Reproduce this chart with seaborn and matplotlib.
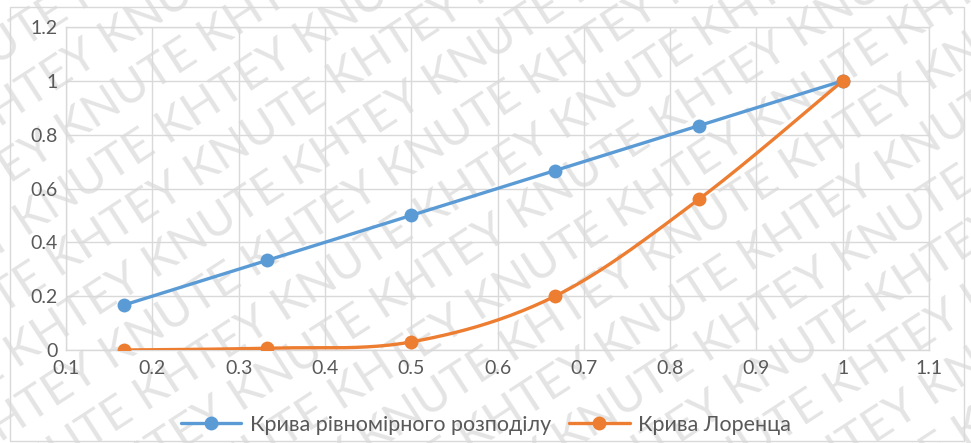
import numpy as np
import pandas as pd
import matplotlib
matplotlib.use("Agg")
import matplotlib.pyplot as plt
from matplotlib.lines import Line2D
from matplotlib.patches import Rectangle
import seaborn as sns

# Population share (x) and cumulative income share (y)
pop_share = [1/6, 2/6, 3/6, 4/6, 5/6, 1.0]
equal_curve = [1/6, 2/6, 3/6, 4/6, 5/6, 1.0]
lorenz_curve = [0.0, 0.007, 0.03, 0.2, 0.56, 1.0]

series_names = ["Крива рівномірного розподілу", "Крива Лоренца"]
x_ticks = [0.1, 0.2, 0.3, 0.4, 0.5, 0.6, 0.7, 0.8, 0.9, 1.0, 1.1]
x_tick_labels = ["0.1", "0.2", "0.3", "0.4", "0.5", "0.6", "0.7", "0.8", "0.9", "1", "1.1"]
y_ticks = [0.0, 0.2, 0.4, 0.6, 0.8, 1.0, 1.2]
y_tick_labels = ["0", "0.2", "0.4", "0.6", "0.8", "1", "1.2"]
watermark = "KHTEY KNUTE "

BLUE = "#5B9BD5"
ORANGE = "#ED7D31"
GRID = "#D9D9D9"
TEXT = "#595959"


def smooth_curve(xs, ys, n=40):
    """Catmull-Rom style cubic Bezier smoothing through the given points."""
    p = np.column_stack([xs, ys]).astype(float)
    ext = np.vstack([p[0], p, p[-1]])
    out = []
    t = np.linspace(0, 1, n)[:, None]
    for i in range(len(p) - 1):
        p0, p1, p2, p3 = ext[i], ext[i + 1], ext[i + 2], ext[i + 3]
        c1 = p1 + (p2 - p0) / 6
        c2 = p2 - (p3 - p1) / 6
        seg = ((1 - t) ** 3) * p1 + 3 * ((1 - t) ** 2) * t * c1 + 3 * (1 - t) * t ** 2 * c2 + t ** 3 * p2
        out.append(seg if i == 0 else seg[1:])
    out = np.vstack(out)
    return out[:, 0], out[:, 1]


sns.set_theme(style="whitegrid")
plt.rcParams["font.family"] = ["Lato", "DejaVu Sans"]

W, H = 971, 443
fig = plt.figure(figsize=(W / 100, H / 100), dpi=100)
fig.patch.set_facecolor("white")

# Faint diagonal watermark rows behind the chart
angle = 33
a = np.deg2rad(angle)
d = np.array([np.cos(a), np.sin(a)])
nrm = np.array([-np.sin(a), np.cos(a)])
spacing = 53
for k in range(-12, 10):
    start = k * spacing * nrm + (-1700 + (k % 3) * 85) * d
    fig.text(start[0] / W, start[1] / H, watermark * 13, rotation=angle,
             rotation_mode="anchor", fontsize=34, color="#E4E4E4",
             family=["Lato", "DejaVu Sans"], ha="left", va="baseline", zorder=-5)

# Outer chart border
fig.patches.append(Rectangle((10 / W, 2 / H), 954 / W, 434 / H, transform=fig.transFigure,
                             fill=False, edgecolor=GRID, linewidth=1.0, zorder=-4))

ax = fig.add_axes([66 / W, 1 - 350 / H, (929 - 66) / W, (350 - 27) / H])
ax.patch.set_alpha(0)

df_eq = pd.DataFrame({"x": pop_share, "y": equal_curve})
df_lz = pd.DataFrame({"x": pop_share, "y": lorenz_curve})
sx, sy = smooth_curve(pop_share, lorenz_curve)
df_lz_smooth = pd.DataFrame({"x": sx, "y": sy})

sns.lineplot(data=df_eq, x="x", y="y", ax=ax, color=BLUE, linewidth=2.4,
             marker="o", markersize=10, markeredgewidth=0, zorder=4)
sns.lineplot(data=df_lz_smooth, x="x", y="y", ax=ax, color=ORANGE, linewidth=2.4,
             sort=False, estimator=None, zorder=3)
sns.scatterplot(data=df_lz, x="x", y="y", ax=ax, color=ORANGE, s=100,
                linewidth=0, zorder=5)

ax.set_xlim(0.1, 1.1)
ax.set_ylim(0, 1.2)
ax.set_xticks(x_ticks)
ax.set_xticklabels(x_tick_labels)
ax.set_yticks(y_ticks)
ax.set_yticklabels(y_tick_labels)
ax.set_xlabel("")
ax.set_ylabel("")
ax.grid(True, color=GRID, linewidth=1.0)
for side in ["left", "bottom", "top", "right"]:
    ax.spines[side].set_visible(True)
    ax.spines[side].set_color(GRID)
    ax.spines[side].set_linewidth(1.0)
ax.tick_params(axis="both", length=0, labelsize=14, labelcolor=TEXT)
ax.tick_params(axis="x", pad=7)
ax.tick_params(axis="y", pad=6)
for lab in ax.get_xticklabels() + ax.get_yticklabels():
    lab.set_family(["Lato", "DejaVu Sans"])

handles = [
    Line2D([], [], color=BLUE, linewidth=2.4, marker="o", markersize=10, markeredgewidth=0),
    Line2D([], [], color=ORANGE, linewidth=2.4, marker="o", markersize=10, markeredgewidth=0),
]
leg = fig.legend(handles, series_names, loc="center", bbox_to_anchor=(0.5005, 1 - 425 / H),
                 ncol=2, frameon=False, fontsize=15.5, handlelength=2.8, columnspacing=0.85,
                 handletextpad=0.4)
for t in leg.get_texts():
    t.set_color(TEXT)

fig.savefig("out.png", dpi=100, facecolor="white")
